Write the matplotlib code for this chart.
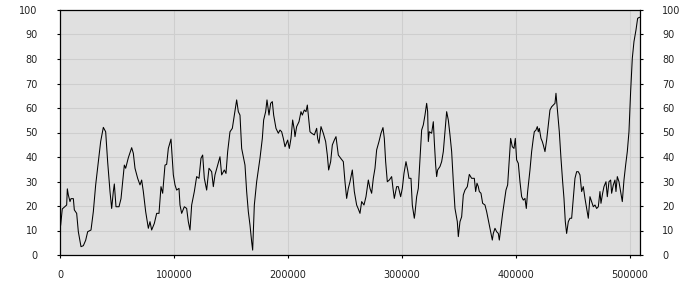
import matplotlib
matplotlib.use("Agg")
import matplotlib.pyplot as plt

# traced series (x position, value)
xs = [580, 2000, 5850, 6430, 7310, 8770, 9650, 11700, 12570, 14620, 16080,
      18420, 20470, 22510, 24270, 27190, 29240, 31290, 33630, 35670, 38010,
      40060, 41810, 43860, 45320, 46780, 47660, 49120, 51750, 53510, 55560,
      56430, 57600, 58480, 59940, 62870, 64330, 65790, 68130, 70180, 71640,
      73100, 75150, 77490, 78950, 80410, 82750, 84800, 86840, 88600, 90060,
      92110, 93570, 95030, 97370, 99420,
      100880, 102340, 104390, 105260, 106730, 109060, 111110, 112570, 114040,
      115500, 117840, 119880, 121930, 123680, 125150, 126610, 128650, 130700,
      133040, 134500, 135960, 138300, 140350, 141810, 144150, 145610, 147080,
      149120, 151170, 152920, 154970, 156430, 157890, 159360, 162280, 163740,
      165200, 166670, 168130, 169010, 170470, 172510, 175440, 177490, 178650,
      180410, 181580, 183330, 184800, 186260, 187430, 189470, 191520, 192980,
      194440, 195910, 197370, 199710, 201170, 202630, 204090, 205560,
      206140, 207600, 209650, 211400, 212570, 214330, 215790, 216960, 217840,
      219300, 220760, 223100, 225150, 226020, 227190, 228950, 230990, 233040,
      234500, 235670, 237430, 238890, 240640, 242110, 244150, 246200, 248540,
      250000, 251460, 252920, 254390, 256430, 258190, 260230, 261700, 263160,
      264620, 266670, 268420, 270470, 271930, 273390, 274850, 276320, 277780,
      279820, 281580, 283330, 284500, 285670, 287130, 288890, 290930, 292110,
      293270, 295320, 296780, 298830, 300290, 301750, 303510, 304970, 306140,
      307890, 309060, 310810,
      311400, 312870, 314330, 315790, 317250, 318710, 320180, 321640, 322520,
      323100, 323980, 326020, 327490, 328360, 329530, 330410, 331290, 333330,
      334800, 336260, 337720, 339180, 340640, 342110, 343570, 345030, 346490,
      348540, 349420, 350880, 352340, 353800, 355260, 357310, 359060, 361110,
      363450, 364620, 365790, 366960, 367840, 369300, 370760, 372810, 374270,
      375730, 377190, 379240, 380120, 381580, 383040, 384500, 385380, 386840,
      388300, 389770, 391230, 392690, 394150, 395320, 396780, 398250, 399420,
      400580, 402050, 403510, 404970, 406430, 407890, 409060, 410230,
      412280, 413740, 415200, 416080, 417540, 418710, 419590, 420470, 421930,
      423100, 423980, 425440, 426900, 428360, 429820, 431290, 432750, 434210,
      435090, 436260, 438010, 439470, 440940, 442110, 443270, 444440, 445900,
      447370, 448830, 450290, 451750, 453220, 454680, 456140, 457600, 459060,
      460530, 461990, 463450, 464910, 466370, 467840, 469300, 470760, 472220,
      473680, 474560, 476020, 477190, 478950, 480120, 481580, 483040, 483920,
      485380, 486840, 487720, 488890, 490350, 491810, 493270, 494740, 496200,
      497660, 499120, 500580, 502050, 503510, 505260, 506730, 508190, 508800]
ys = [12.2, 18.8, 20.4, 27, 24.5, 21.8, 23, 23, 18.4, 17, 9.5,
      3.4, 3.8, 6, 9.5, 10.2, 17.7, 28.6, 38, 46.3, 52.1,
      50.3, 38, 25.9, 19, 25.9, 29, 19.7, 19.7, 23, 32.7,
      36.7, 35.4, 37, 39.7, 43.8, 41.5, 35.4, 31.3, 28.6, 30.6,
      25.9, 17.7, 10.9, 13.6, 10.2, 12.9, 17, 17, 27.9, 25.2,
      36.7, 37, 43.5, 47.3, 32.7,
      28.6, 26.5, 27.2, 20.4, 17, 19.7, 19, 13.6, 10.2,
      20.4, 25.9, 32, 31.3, 39.5, 40.8, 31.3, 26.5, 35.4,
      34, 27.9, 32.7, 36.7, 40.1, 32.7, 34.7, 33.3, 42.2,
      50.3, 51.7, 57.1, 63.3, 58.5, 57.1, 43.5, 36.7, 25.9,
      17.7, 12.2, 5.4, 2, 20.4, 29.9, 39.5, 47.6, 55.1,
      58.5, 63.3, 57.1, 61.9, 62.6, 57.1, 51.7, 49.7, 51,
      50.3, 47.6, 44.2, 46.9, 43.5, 47.6, 55.1, 51,
      48.3, 52.4, 54.4, 58.5, 57.1, 59.2, 58.5, 61.2, 57.1,
      50.3, 49.7, 49, 51.7, 47.6, 45.6, 52.4, 49.7, 46.3,
      40.8, 34.7, 38.1, 44.9, 46.9, 48.3, 40.8, 39.5, 38.1,
      29.9, 23.1, 27.2, 29.9, 34.7, 25.9, 20.4, 18.8, 17,
      21.8, 20.4, 23.8, 30.6, 27.2, 25.2, 31.3, 35.4, 42.9,
      46.3, 49.7, 52, 47.6, 38.1, 29.9, 30.6, 32, 27.2,
      23.1, 27.9, 27.9, 23.8, 27.2, 33.3, 38.1, 34.7, 31.3,
      31.3, 20.4, 15,
      17, 23.8, 27.2, 39.5, 51, 53.1, 57.1, 61.9, 58.5,
      46.3, 50.3, 49.7, 54.4, 46.3, 36.7, 32, 34.7, 36.1,
      38.1, 42.2, 50.3, 58.5, 55.1, 49, 42.2, 29.9, 19,
      13.6, 7.5, 13.6, 15.6, 24.5, 26.5, 27.9, 32.9, 31.3,
      31.3, 25.9, 29.3, 27.9, 25.9, 25.2, 21.1, 20.4, 17.7,
      14.3, 10.9, 6.1, 8.8, 10.9, 9.5, 8.8, 6.1, 11.6,
      17, 21.8, 26.5, 28.6, 39.5, 47.6, 44.2, 43.5, 47.6,
      38.8, 37.4, 29.9, 23.8, 22.4, 23.1, 19, 25.9,
      34.7, 42.2, 47.6, 50.3, 51, 52.4, 50.3, 51.7, 47.6,
      46.3, 44.9, 42.2, 46.9, 53.1, 59.2, 60.5, 61.2, 61.9,
      66, 59.9, 50.3, 39.5, 29.9, 23.1, 13.6, 8.8, 13.6,
      15, 15, 23.1, 31.3, 34, 34, 32.7, 25.9, 27.9,
      23.1, 19, 15, 23.8, 21.8, 19.7, 20.4, 19, 19.7,
      25.9, 21.1, 25.2, 27.9, 29.9, 23.8, 29.9, 30.6, 25.2,
      28.6, 30.6, 25.9, 32, 29.9, 25.9, 21.8, 30.6, 36.7,
      42.2, 50.3, 66.7, 80.3, 87.1, 91.8, 96.6, 97, 97]

xticks = [0, 100000, 200000, 300000, 400000, 500000]
yticks = list(range(0, 101, 10))

fig = plt.figure(figsize=(7, 3), dpi=100)
ax = fig.add_axes([60 / 700, 45 / 300, 580 / 700, 245 / 300])
ax.set_facecolor("#e0e0e0")
ax.plot(xs, ys, color="black", linewidth=0.75)

ax.set_xlim(0, 508800)
ax.set_ylim(0, 100)
ax.set_xticks(xticks)
ax.set_xticklabels([str(t) for t in xticks])
ax.set_yticks(yticks)
ax.grid(True, color="#cecece", linewidth=0.8)
ax.set_axisbelow(True)

ax.tick_params(axis="both", direction="out", length=2, width=0.8,
               labelsize=7, colors="black", labelcolor="#222222")
ax.tick_params(axis="y", right=True, labelright=True, pad=14)
ax.tick_params(axis="x", pad=9)
for s in ax.spines.values():
    s.set_color("black")
    s.set_linewidth(0.9)

fig.savefig("out.png", dpi=100)
